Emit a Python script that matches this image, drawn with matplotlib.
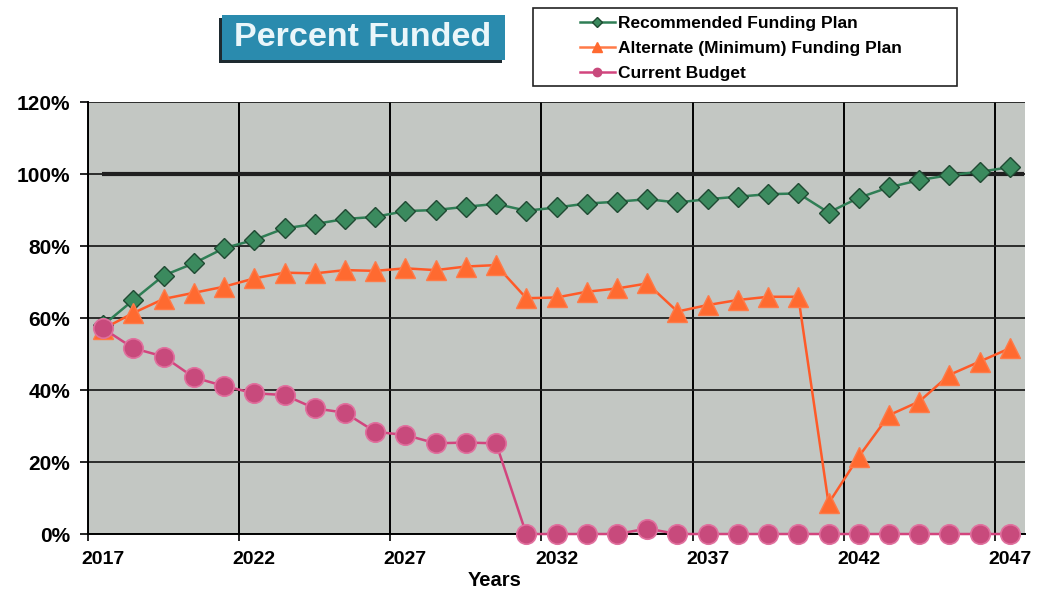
import matplotlib.pyplot as plt
from matplotlib.lines import Line2D
from matplotlib.patches import Rectangle
from matplotlib.ticker import FixedLocator, FuncFormatter

plt.rcParams['font.family'] = ['Liberation Sans', 'DejaVu Sans']
plt.rcParams['font.weight'] = 'bold'

years = list(range(2017, 2048))
label_years = [2017, 2022, 2027, 2032, 2037, 2042, 2047]

recommended = [58.0, 65.0, 71.8, 75.2, 79.4, 81.7, 84.9, 86.1, 87.5, 88.1,
               89.7, 90.0, 90.9, 91.7, 89.8, 90.7, 91.8, 92.3, 93.0, 92.1,
               93.0, 93.7, 94.4, 94.6, 89.3, 93.4, 96.3, 98.3, 99.7, 100.6,
               101.9]
alternate = [57.0, 61.4, 65.3, 67.0, 68.7, 71.0, 72.6, 72.4, 73.3, 73.1,
             73.8, 73.3, 74.3, 74.7, 65.5, 65.7, 67.3, 68.2, 69.6, 61.8,
             63.6, 65.0, 65.9, 65.9, 8.5, 21.5, 33.0, 36.8, 44.2, 47.9,
             51.6]
current = [57.1, 51.6, 49.3, 43.5, 41.1, 39.1, 38.6, 34.9, 33.7, 28.4,
           27.5, 25.2, 25.4, 25.2, 0, 0, 0, 0, 1.5, 0,
           0, 0, 0, 0, 0, 0, 0, 0, 0, 0,
           0]
target = 100

series_names = ['Recommended Funding Plan',
                'Alternate (Minimum) Funding Plan',
                'Current Budget']

fig = plt.figure(figsize=(10.42, 5.90), dpi=100)
ax = fig.add_axes([0.0845, 0.0949, 0.8992, 0.7322])
ax.set_facecolor('#C3C7C3')

ax.set_xlim(years[0] - 0.5, years[-1] + 0.5)
ax.set_ylim(0, 120)

# category axis: labels centred on years, grid on the category boundaries
ax.xaxis.set_major_locator(FixedLocator(label_years))
ax.xaxis.set_minor_locator(FixedLocator([y - 0.5 for y in label_years]))
ax.tick_params(axis='x', which='major', length=0, pad=12, labelsize=14)
ax.tick_params(axis='x', which='minor', length=5, width=1.2, color='black')
ax.grid(True, axis='x', which='minor', color='black', linewidth=1.4)

ax.set_yticks(range(0, 121, 20))
ax.yaxis.set_major_formatter(FuncFormatter(lambda v, _: f'{v:.0f}%'))
ax.tick_params(axis='y', length=6, width=1.2, pad=7, labelsize=15)
ax.grid(True, axis='y', color='#202020', linewidth=1.3)
ax.set_axisbelow(True)

for side in ['top', 'right']:
    ax.spines[side].set_visible(False)
for side in ['left', 'bottom']:
    ax.spines[side].set_linewidth(1.4)
    ax.spines[side].set_color('black')

ax.hlines(target, years[0] - 0.05, years[-1] + 0.45, color='#202020',
          linewidth=3, zorder=2)

ax.plot(years, recommended, color='#2F7E55', linewidth=1.8, marker='D',
        markersize=10, markerfacecolor='#3B8A5E', markeredgecolor='#1F4A32',
        markeredgewidth=1.0, zorder=3, clip_on=False)
ax.plot(years, alternate, color='#FF5A28', linewidth=1.8, marker='^',
        markersize=15, markerfacecolor='#FF6A30', markeredgecolor='#FF7A48',
        markeredgewidth=1.0, zorder=4, clip_on=False)
ax.plot(years, current, color='#D2457E', linewidth=1.8, marker='o',
        markersize=14, markerfacecolor='#C84A7C', markeredgecolor='#E0709E',
        markeredgewidth=1.2, zorder=5, clip_on=False)

ax.set_xlabel('Years', fontsize=14.5, fontweight='bold')
ax.xaxis.set_label_coords(0.434, -0.085)

# title badge with drop shadow
fig.patches.append(Rectangle((219 / 1042, 1 - 63 / 590), 283 / 1042, 45 / 590,
                             transform=fig.transFigure, facecolor='#1E2A30',
                             edgecolor='none', zorder=1))
fig.patches.append(Rectangle((222 / 1042, 1 - 60 / 590), 283 / 1042, 45 / 590,
                             transform=fig.transFigure, facecolor='#2A8BAE',
                             edgecolor='none', zorder=2))
fig.text(363 / 1042, 1 - 38 / 590, 'Percent Funded', color='#EAF6FA',
         fontsize=24.5, fontweight='bold', ha='center', va='center', zorder=3)

# legend box
fig.patches.append(Rectangle((533 / 1042, 1 - 86 / 590), 424 / 1042, 78 / 590,
                             transform=fig.transFigure, facecolor='white',
                             edgecolor='#222222', linewidth=1.2, zorder=1))
handles = [
    Line2D([], [], color='#2F7E55', linewidth=1.8, marker='D', markersize=5,
           markerfacecolor='#3B8A5E', markeredgecolor='#1F4A32'),
    Line2D([], [], color='#FF7A48', linewidth=1.8, marker='^', markersize=7,
           markerfacecolor='#FF6A30', markeredgecolor='#FF6A30'),
    Line2D([], [], color='#D2457E', linewidth=1.8, marker='o', markersize=6,
           markerfacecolor='#C84A7C', markeredgecolor='#C84A7C'),
]
fig.legend(handles, series_names, loc='upper left',
           bbox_to_anchor=(566 / 1042, 1 - 2 / 590), frameon=False,
           fontsize=12.5, handlelength=2.0, handletextpad=0.2,
           labelspacing=0.58, borderpad=0.3)

fig.savefig('out.png', dpi=100)
